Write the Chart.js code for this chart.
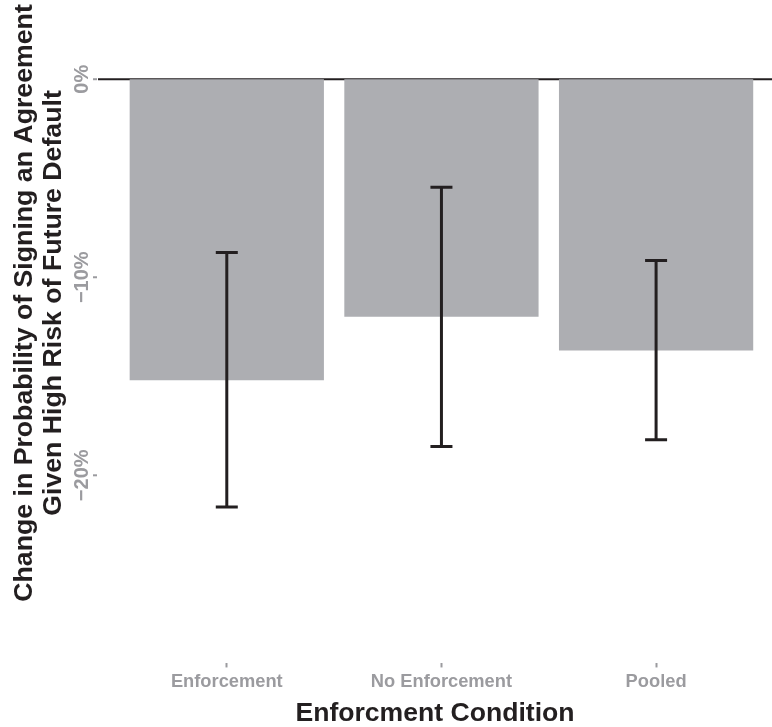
<!DOCTYPE html>
<html>
<head>
  <title>Enforcement Condition</title>
  <script src="https://cdn.jsdelivr.net/npm/chart.js"></script>
  <style>
    body { margin: 0; background: #fff; }
    #wrap { width: 772px; height: 727px; position: relative; }
  </style>
</head>
<body>
  <div id="wrap"><canvas id="chart"></canvas></div>

  <script>
    const categories = ["Enforcement", "No Enforcement", "Pooled"];
    const effect = [-15.2, -12.0, -13.7];       // % change
    const errLow = [-21.6, -18.55, -18.2];
    const errHigh = [-8.75, -5.45, -9.15];
    const yTicks = [0, -10, -20];
    const yTickLabels = ["0%", "\u221210%", "\u221220%"];
    const yTitle = ["Change in Probability of Signing an Agreement", "Given High Risk of Future Default"];
    const xTitle = "Enforcment Condition";

    const FONT = "'Liberation Sans', Arial, Helvetica, sans-serif";
    const GREY = "#9b9b9f";
    const INK = "#231f20";

    // error bars, zero line, rotated y labels
    const extras = {
      id: "extras",
      beforeDatasetsDraw(chart) {
        const { ctx, chartArea, scales: { y } } = chart;
        const y0 = y.getPixelForValue(0);
        ctx.save();
        ctx.strokeStyle = INK;
        ctx.lineWidth = 2;
        ctx.beginPath();
        ctx.moveTo(chartArea.left, y0);
        ctx.lineTo(chartArea.right, y0);
        ctx.stroke();
        ctx.restore();
      },
      afterDatasetsDraw(chart) {
        const { ctx, chartArea, scales: { x, y } } = chart;
        ctx.save();
        ctx.strokeStyle = INK;
        ctx.lineWidth = 3;
        categories.forEach((c, i) => {
          const px = x.getPixelForValue(i + 1);
          const lo = y.getPixelForValue(errLow[i]);
          const hi = y.getPixelForValue(errHigh[i]);
          ctx.beginPath();
          ctx.moveTo(px, lo); ctx.lineTo(px, hi);
          ctx.moveTo(px - 11, lo); ctx.lineTo(px + 11, lo);
          ctx.moveTo(px - 11, hi); ctx.lineTo(px + 11, hi);
          ctx.stroke();
        });

        // y ticks (rotated labels)
        ctx.strokeStyle = GREY;
        ctx.lineWidth = 2;
        ctx.fillStyle = GREY;
        ctx.font = "bold 20px " + FONT;
        ctx.textAlign = "center";
        ctx.textBaseline = "middle";
        yTicks.forEach((v, i) => {
          const py = y.getPixelForValue(v);
          ctx.beginPath();
          ctx.moveTo(chartArea.left - 5, py);
          ctx.lineTo(chartArea.left - 1, py);
          ctx.stroke();
          ctx.save();
          ctx.translate(81, py);
          ctx.rotate(-Math.PI / 2);
          ctx.fillText(yTickLabels[i], 0, 1);
          ctx.restore();
        });

        // y title
        ctx.fillStyle = INK;
        ctx.font = "bold 26.7px " + FONT;
        const xs = [24, 53];
        yTitle.forEach((t, i) => {
          ctx.save();
          ctx.translate(xs[i], 303);
          ctx.rotate(-Math.PI / 2);
          ctx.fillText(t, 0, 1);
          ctx.restore();
        });
        ctx.restore();
      }
    };

    new Chart(document.getElementById("chart"), {
      type: "bar",
      data: {
        datasets: [{
          data: categories.map((c, i) => ({ x: i + 1, y: effect[i] })),
          backgroundColor: "#adaeb2",
          borderWidth: 0,
          barPercentage: 0.905,
          categoryPercentage: 1
        }]
      },
      options: {
        responsive: true,
        maintainAspectRatio: false,
        animation: false,
        layout: { padding: { left: 98, right: 0, top: 0, bottom: 0 } },
        plugins: { legend: { display: false }, tooltip: { enabled: false } },
        scales: {
          x: {
            type: "linear",
            offset: false,
            min: 0.4,
            max: 3.54,
            afterBuildTicks: axis => { axis.ticks = categories.map((c, i) => ({ value: i + 1 })); },
            ticks: {
              callback: v => categories[v - 1],
              color: GREY,
              font: { family: FONT, size: 18.3, weight: "bold" },
              padding: 4,
              maxRotation: 0,
              autoSkip: false
            },
            grid: { offset: false, drawOnChartArea: false, tickLength: 4, tickColor: GREY, tickWidth: 2 },
            border: { display: false },
            title: {
              display: true,
              text: xTitle,
              color: INK,
              font: { family: FONT, size: 26.6, weight: "bold", lineHeight: 1 },
              padding: { top: 3, bottom: 0 }
            }
          },
          y: {
            display: false,
            min: -29.5,
            max: 4
          }
        }
      },
      plugins: [extras]
    });
  </script>
</body>
</html>
